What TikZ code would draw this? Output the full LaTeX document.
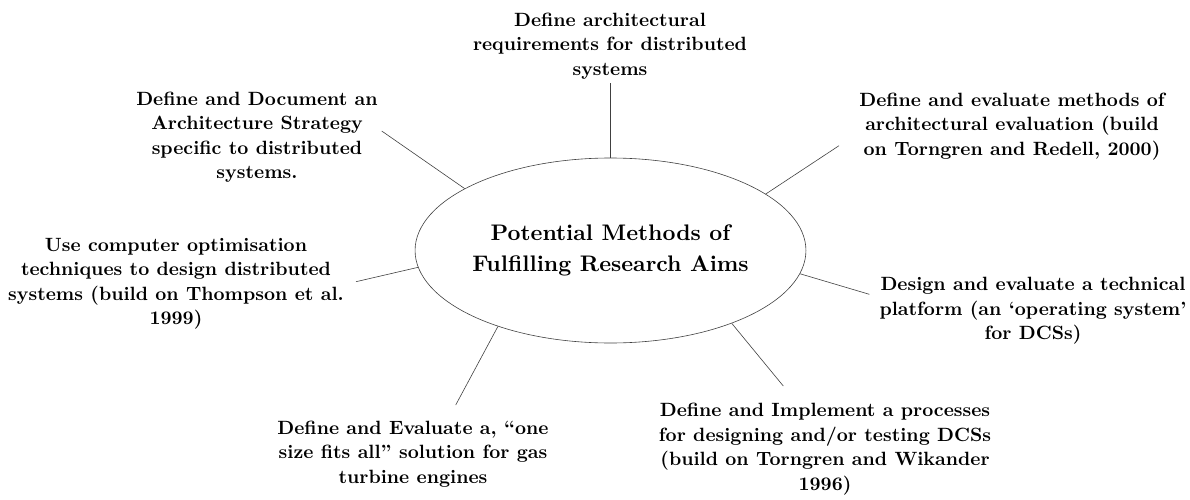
\documentclass[tikz,border=0pt]{standalone}
\usepackage{fontspec}
\setmainfont{lmroman10-regular.otf}[BoldFont=lmroman10-bold.otf, Ligatures=TeX]
\usetikzlibrary{shapes.geometric}
\tikzset{
  lbl/.style={align=center, inner sep=0pt, font=\fontsize{19.2}{24.5}\selectfont\bfseries},
  hub/.style={ellipse, draw=black!75, line width=0.6pt, minimum width=371pt, minimum height=185pt, inner sep=0pt, align=center, font=\fontsize{22.5}{31}\selectfont\bfseries},
  spoke/.style={draw=black!75, line width=0.6pt}
}
\begin{document}
\begin{tikzpicture}[x=1pt,y=-1pt]
\useasboundingbox (0,0) rectangle (1190,500);
\node[hub] (c) at (610.5,250.5) {Potential Methods of\\Fulfilling Research Aims};

\node[lbl] (t1) at (610,46) {Define architectural\\requirements for distributed\\systems};
\node[lbl] (t2) at (257,137) {Define and Document an\\Architecture Strategy\\specific to distributed\\systems.};
\node[lbl] (t3) at (1012,126.5) {Define and evaluate methods of\\architectural evaluation (build\\on Torngren and Redell, 2000)};
\node[lbl] (t4) at (176,284) {Use computer optimisation\\techniques to design distributed\\systems (build on Thompson et al.\\1999)};
\node[lbl] (t5) at (1033,311) {Design and evaluate a technical\\platform (an `operating system'\\for DCSs)};
\node[lbl] (t6) at (413,454) {Define and Evaluate a, ``one\\size fits all'' solution for gas\\turbine engines};
\node[lbl] (t7) at (825,449) {Define and Implement a processes\\for designing and/or testing DCSs\\(build on Torngren and Wikander\\1996)};

\coordinate (e1) at (610.5,83);
\coordinate (e2) at (381.7,131);
\coordinate (e3) at (839,145.7);
\coordinate (e4) at (356,281.7);
\coordinate (e5) at (869.3,294.3);
\coordinate (e6) at (455.7,405);
\coordinate (e7) at (783.3,386);

\draw[spoke] (c.90) -- (e1);
\draw[spoke] (c.157.3) -- (e2);
\draw[spoke] (c.20.5) -- (e3);
\draw[spoke] (c.185) -- (e4);
\draw[spoke] (c.353) -- (e5);
\draw[spoke] (c.214.9) -- (e6);
\draw[spoke] (c.329.6) -- (e7);
\end{tikzpicture}
\end{document}
